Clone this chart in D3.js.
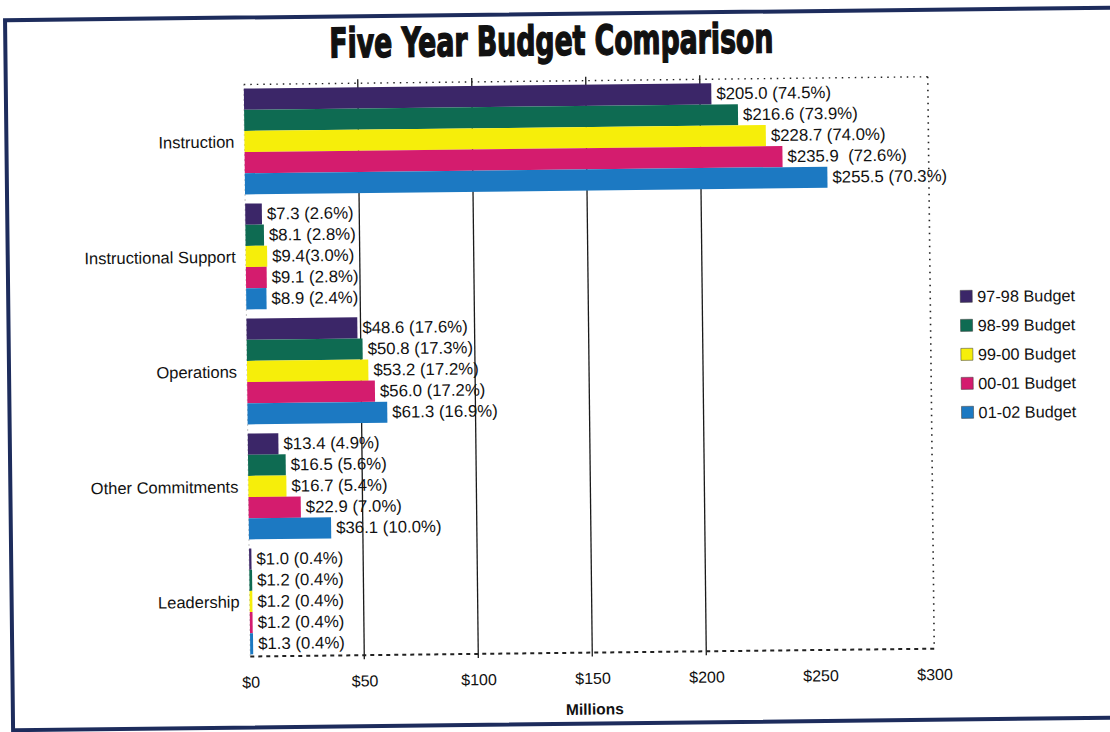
<!DOCTYPE html>
<html>
<head>
<meta charset="utf-8">
<script src="https://cdn.jsdelivr.net/npm/d3@7"></script>
<style>
  html, body { margin: 0; padding: 0; background: #ffffff; }
  svg { display: block; }
  text { font-family: "Liberation Sans", Arial, Helvetica, sans-serif; fill: #111; }
</style>
</head>
<body>
<svg id="chart" width="1110" height="732"></svg>
<script>
// Budget categories (rows) and the five budget years (series)
const categories = ["Instruction", "Instructional Support", "Operations", "Other Commitments", "Leadership"];
const seriesNames = ["97-98 Budget", "98-99 Budget", "99-00 Budget", "00-01 Budget", "01-02 Budget"];

// Dollar amounts in millions, one array per budget year, in category order
const budget9798 = [205.0, 7.3, 48.6, 13.4, 1.0];
const budget9899 = [216.6, 8.1, 50.8, 16.5, 1.2];
const budget9900 = [228.7, 9.4, 53.2, 16.7, 1.2];
const budget0001 = [235.9, 9.1, 56.0, 22.9, 1.2];
const budget0102 = [255.5, 8.9, 61.3, 36.1, 1.3];

// Share of the total budget for each amount (percent)
const share9798 = [74.5, 2.6, 17.6, 4.9, 0.4];
const share9899 = [73.9, 2.8, 17.3, 5.6, 0.4];
const share9900 = [74.0, 3.0, 17.2, 5.4, 0.4];
const share0001 = [72.6, 2.8, 17.2, 7.0, 0.4];
const share0102 = [70.3, 2.4, 16.9, 10.0, 0.4];

// Axis ticks (millions) and the vertical grid lines drawn through the plot
const xTicks = [0, 50, 100, 150, 200, 250, 300];
const gridValues = [50, 100, 150, 200];

const seriesColors = ["#3b2668", "#0e6b52", "#f6ee0a", "#d41c6e", "#1c79c2"];

// Spacing between amount and percentage, as typed on the original labels
const labelGap = { "99-00 Budget|Instructional Support": "", "00-01 Budget|Instruction": "  " };

const amounts = [budget9798, budget9899, budget9900, budget0001, budget0102];
const shares = [share9798, share9899, share9900, share0001, share0102];

const svg = d3.select("#chart");
const root = svg.append("g").attr("transform", "rotate(-0.65, 555, 366)");

// Outer page frame
root.append("rect")
  .attr("x", 9).attr("y", 14).attr("width", 1160).attr("height", 710)
  .attr("fill", "none").attr("stroke", "#1d2c5c").attr("stroke-width", 4);

// Title
root.append("text")
  .attr("x", 555).attr("y", 55)
  .attr("text-anchor", "middle")
  .attr("textLength", 444).attr("lengthAdjust", "spacingAndGlyphs")
  .style("font-family", "'DejaVu Sans Condensed', 'DejaVu Sans', sans-serif")
  .style("font-weight", "bold")
  .style("font-size", "41px")
  .style("stroke", "#111").style("stroke-width", 1.4)
  .text("Five Year Budget Comparison");

const plot = { left: 247, right: 931, top: 81, bottom: 653 };

const x = d3.scaleLinear().domain([0, 300]).range([plot.left, plot.right]);
const y = d3.scaleBand().domain(categories).range([80.5, 655.5]).paddingInner(0.08).paddingOuter(0.04);
const ySub = d3.scaleBand().domain(seriesNames).range([0, y.bandwidth()]);

// Grid lines
root.append("g").selectAll("line").data(gridValues).join("line")
  .attr("x1", d => x(d)).attr("x2", d => x(d))
  .attr("y1", plot.top - 4).attr("y2", plot.bottom + 4)
  .attr("stroke", "#1a1a1a").attr("stroke-width", 1.3);

// Dotted plot border
const border = root.append("g").attr("fill", "none").attr("stroke", "#222");
border.append("line").attr("x1", plot.left).attr("x2", plot.right).attr("y1", plot.top).attr("y2", plot.top)
  .attr("stroke-width", 1.4).attr("stroke-dasharray", "1.5,5");
border.append("line").attr("x1", plot.right).attr("x2", plot.right).attr("y1", plot.top).attr("y2", plot.bottom)
  .attr("stroke-width", 1.6).attr("stroke-dasharray", "1.5,5");
border.append("line").attr("x1", plot.left).attr("x2", plot.right).attr("y1", plot.bottom).attr("y2", plot.bottom)
  .attr("stroke-width", 2).attr("stroke-dasharray", "4,4");
border.append("line").attr("x1", plot.left).attr("x2", plot.left).attr("y1", plot.top).attr("y2", plot.bottom)
  .attr("stroke", "#888").attr("stroke-width", 1).attr("stroke-dasharray", "1,4");

// Bars, one group per category
const rows = seriesNames.flatMap((s, si) => categories.map((c, ci) => ({
  series: s, si, category: c, value: amounts[si][ci], share: shares[si][ci]
})));

const bars = root.append("g");
bars.selectAll("rect").data(rows).join("rect")
  .attr("x", x(0))
  .attr("y", d => y(d.category) + ySub(d.series))
  .attr("width", d => x(d.value) - x(0))
  .attr("height", ySub.bandwidth())
  .attr("fill", d => seriesColors[d.si]);

// Value labels
bars.selectAll("text").data(rows).join("text")
  .attr("x", d => x(d.value) + 5)
  .attr("y", d => y(d.category) + ySub(d.series) + ySub.bandwidth() / 2)
  .attr("dominant-baseline", "central")
  .style("font-size", "16.8px")
  .style("white-space", "pre")
  .attr("xml:space", "preserve")
  .text(d => {
    const key = d.series + "|" + d.category;
    const gap = key in labelGap ? labelGap[key] : " ";
    return "$" + d.value.toFixed(1) + gap + "(" + d.share.toFixed(1) + "%)";
  });

// Category labels
root.append("g").selectAll("text").data(categories).join("text")
  .attr("x", 237)
  .attr("y", d => y(d) + y.bandwidth() / 2)
  .attr("text-anchor", "end")
  .attr("dominant-baseline", "central")
  .style("font-size", "16.5px")
  .text(d => d);

// Bottom axis (labels only)
const xAxis = root.append("g")
  .attr("transform", `translate(0,${plot.bottom})`)
  .call(d3.axisBottom(x).tickValues(xTicks).tickSize(0).tickPadding(20).tickFormat(d => "$" + d));
xAxis.select(".domain").remove();
xAxis.selectAll("text")
  .style("font-family", "'Liberation Sans', Arial, sans-serif")
  .style("font-size", "16px")
  .attr("fill", "#111");

root.append("text")
  .attr("x", 591).attr("y", 715)
  .attr("text-anchor", "middle")
  .style("font-size", "15.5px").style("font-weight", "bold")
  .text("Millions");

// Legend
const legend = root.append("g").selectAll("g").data(seriesNames).join("g")
  .attr("transform", (d, i) => `translate(961, ${301 + i * 29})`);
legend.append("rect")
  .attr("x", 0).attr("y", -6).attr("width", 12).attr("height", 12)
  .attr("fill", (d, i) => seriesColors[i])
  .attr("stroke", "#333").attr("stroke-width", 0.5);
legend.append("text")
  .attr("x", 17).attr("y", 0)
  .attr("dominant-baseline", "central")
  .style("font-size", "16.3px")
  .text(d => d);
</script>
</body>
</html>
